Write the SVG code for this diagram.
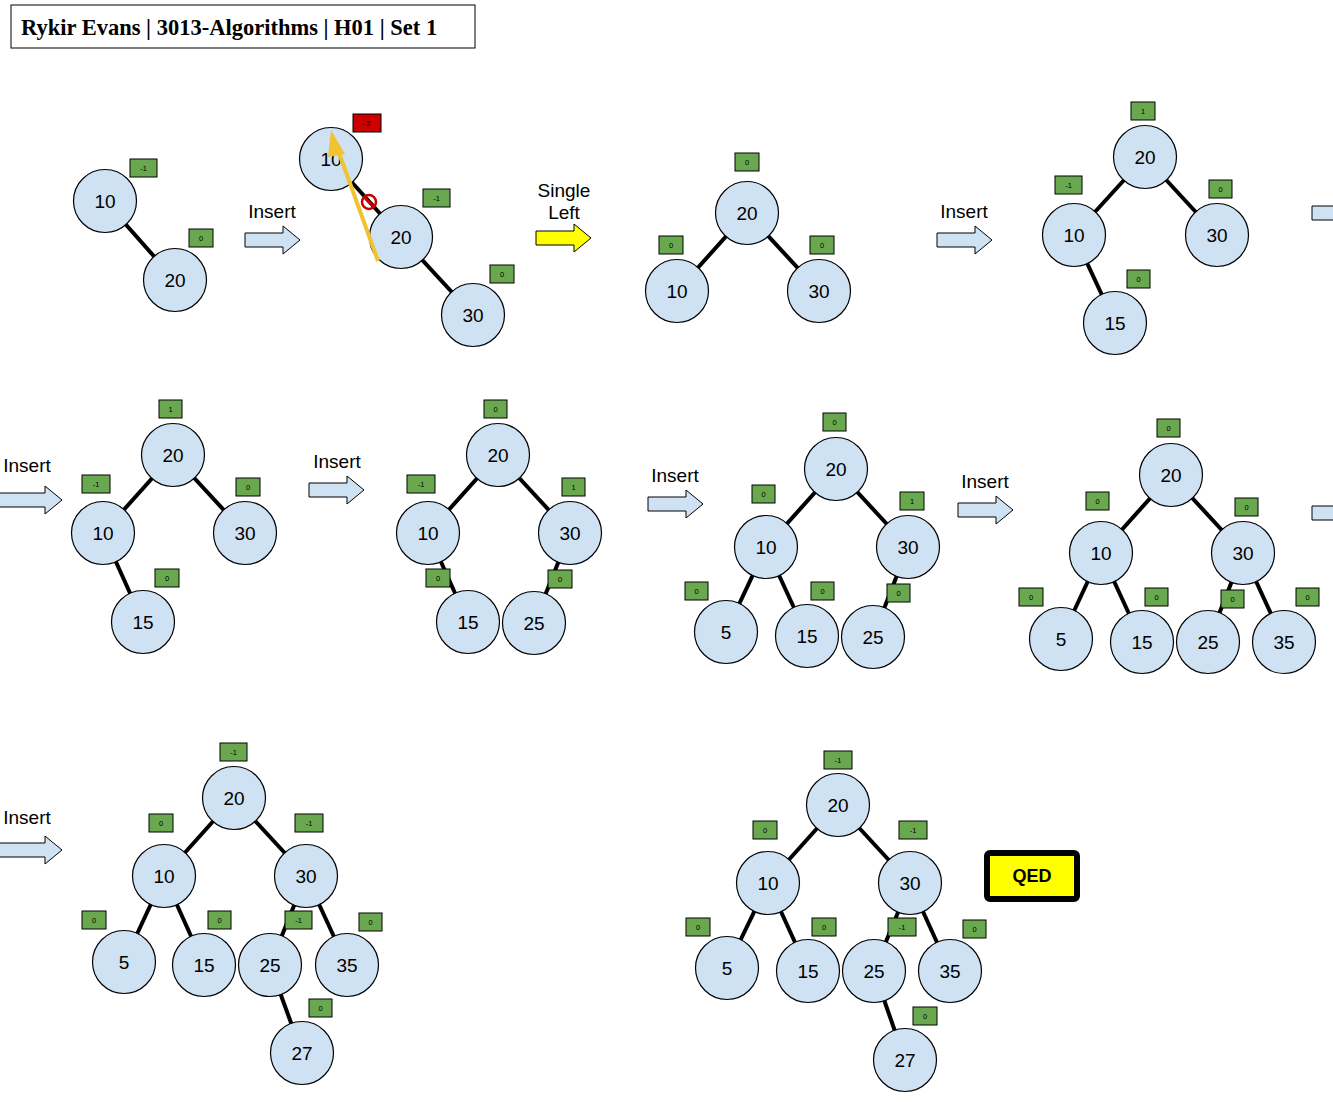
<svg xmlns="http://www.w3.org/2000/svg" width="1333" height="1108" viewBox="0 0 1333 1108">
<defs>
<style>
.n circle{fill:#cfe2f3;stroke:#000;stroke-width:1.2}
.n text{font-family:"Liberation Sans",Arial,sans-serif;font-size:19px;fill:#000;text-anchor:middle;dominant-baseline:central}
.e line{stroke:#000;stroke-width:4}
.b rect{fill:#6aa84f;stroke:#000;stroke-width:1}
.b text{font-family:"Liberation Sans",Arial,sans-serif;font-size:7.5px;fill:#000;text-anchor:middle;dominant-baseline:central}
.arr{fill:#cfe2f3;stroke:#000;stroke-width:1}
.lbl{font-family:"Liberation Sans",Arial,sans-serif;font-size:19px;fill:#000;text-anchor:middle}
</style>
</defs>
<rect width="1333" height="1108" fill="#fff"/>

<g id="title">
<rect x="11" y="5" width="464" height="43" fill="#fff" stroke="#000" stroke-width="1"/>
<text x="21" y="35" font-family="Liberation Serif,'Times New Roman',serif" font-size="22.5" font-weight="bold">Rykir Evans | 3013-Algorithms | H01 | Set 1</text>
</g>

<!-- step arrows -->
<g id="step-arrows">
<path class="arr" d="M245,233H283V226L300,240L283,254V247H245Z"/>
<text class="lbl" x="272" y="218">Insert</text>
<path d="M536,231H574V224L591,238L574,252V245H536Z" fill="#ffff00" stroke="#000" stroke-width="1"/>
<text class="lbl" x="564" y="197">Single</text>
<text class="lbl" x="564" y="219">Left</text>
<path class="arr" d="M937,233H975V226L992,240L975,254V247H937Z"/>
<text class="lbl" x="964" y="218">Insert</text>
<path class="arr" d="M1312,206H1350V199L1367,213L1350,227V220H1312Z"/>

<path class="arr" d="M-10,493H45V486L62,500L45,514V507H-10Z"/>
<text class="lbl" x="27" y="472">Insert</text>
<path class="arr" d="M309,483H347V476L364,490L347,504V497H309Z"/>
<text class="lbl" x="337" y="468">Insert</text>
<path class="arr" d="M648,497H686V490L703,504L686,518V511H648Z"/>
<text class="lbl" x="675" y="482">Insert</text>
<path class="arr" d="M958,503H996V496L1013,510L996,524V517H958Z"/>
<text class="lbl" x="985" y="488">Insert</text>
<path class="arr" d="M1312,506H1350V499L1367,513L1350,527V520H1312Z"/>

<path class="arr" d="M-10,843H45V836L62,850L45,864V857H-10Z"/>
<text class="lbl" x="27" y="824">Insert</text>
</g>

<!-- connectors -->
<g id="connectors" class="e">
<line x1="105" y1="201" x2="175" y2="280"/>
<line x1="331" y1="159" x2="401" y2="237"/>
<line x1="401" y1="237" x2="473" y2="315"/>
<line x1="747" y1="213" x2="677" y2="291"/>
<line x1="747" y1="213" x2="819" y2="291"/>
<line x1="1145" y1="157" x2="1074" y2="235"/>
<line x1="1145" y1="157" x2="1217" y2="235"/>
<line x1="1074" y1="235" x2="1115" y2="323"/>

<line x1="173" y1="455" x2="103" y2="533"/>
<line x1="173" y1="455" x2="245" y2="533"/>
<line x1="103" y1="533" x2="143" y2="622"/>

<line x1="498" y1="455" x2="428" y2="533"/>
<line x1="498" y1="455" x2="570" y2="533"/>
<line x1="428" y1="533" x2="468" y2="622"/>
<line x1="570" y1="533" x2="534" y2="623"/>

<line x1="836" y1="469" x2="766" y2="547"/>
<line x1="836" y1="469" x2="908" y2="547"/>
<line x1="766" y1="547" x2="726" y2="632"/>
<line x1="766" y1="547" x2="807" y2="636"/>
<line x1="908" y1="547" x2="873" y2="637"/>

<line x1="1171" y1="475" x2="1101" y2="553"/>
<line x1="1171" y1="475" x2="1243" y2="553"/>
<line x1="1101" y1="553" x2="1061" y2="639"/>
<line x1="1101" y1="553" x2="1142" y2="642"/>
<line x1="1243" y1="553" x2="1208" y2="642"/>
<line x1="1243" y1="553" x2="1284" y2="642"/>

<line x1="234" y1="798" x2="164" y2="876"/>
<line x1="234" y1="798" x2="306" y2="876"/>
<line x1="164" y1="876" x2="124" y2="962"/>
<line x1="164" y1="876" x2="204" y2="965"/>
<line x1="306" y1="876" x2="270" y2="965"/>
<line x1="306" y1="876" x2="347" y2="965"/>
<line x1="270" y1="965" x2="302" y2="1053"/>

<line x1="838" y1="805" x2="768" y2="883"/>
<line x1="838" y1="805" x2="910" y2="883"/>
<line x1="768" y1="883" x2="727" y2="968"/>
<line x1="768" y1="883" x2="808" y2="971"/>
<line x1="910" y1="883" x2="874" y2="971"/>
<line x1="910" y1="883" x2="950" y2="971"/>
<line x1="874" y1="971" x2="905" y2="1060"/>
</g>

<!-- Tree A -->
<g id="treeA">
<g id="A10" class="n"><circle cx="105" cy="201" r="31.5"/><text x="105" y="201">10</text></g>
<g id="A20" class="n"><circle cx="175" cy="280" r="31.5"/><text x="175" y="280">20</text></g>
<g class="b"><rect x="130" y="159" width="27" height="18"/><text x="143.5" y="168">-1</text></g>
<g class="b"><rect x="189" y="229" width="24" height="18"/><text x="201" y="238">0</text></g>
</g>

<!-- Tree B -->
<g id="treeB">
<g id="B10" class="n"><circle cx="331" cy="159" r="31.5"/><text x="331" y="159">10</text></g>
<g id="B20" class="n"><circle cx="401" cy="237" r="31.5"/><text x="401" y="237">20</text></g>
<g id="B30" class="n"><circle cx="473" cy="315" r="31.5"/><text x="473" y="315">30</text></g>
<g class="b"><rect x="353" y="114" width="28" height="18" style="fill:#cc0000"/><text x="367" y="123">-2</text></g>
<g class="b"><rect x="423" y="189" width="27" height="18"/><text x="436.5" y="198">-1</text></g>
<g class="b"><rect x="490" y="265" width="24" height="18"/><text x="502" y="274">0</text></g>
<g id="noentry">
<circle cx="369" cy="202" r="7" fill="none" stroke="#cc0000" stroke-width="2.5"/>
<line x1="364" y1="197" x2="374" y2="207" stroke="#cc0000" stroke-width="2.5"/>
</g>
<g id="rotate-arrow">
<line x1="378" y1="261" x2="338" y2="150" stroke="#f1c232" stroke-width="4"/>
<polygon points="331,130 345,154 328,157" fill="#f1c232"/>
</g>
</g>

<!-- Tree C -->
<g id="treeC">
<g id="C20" class="n"><circle cx="747" cy="213" r="31.5"/><text x="747" y="213">20</text></g>
<g id="C10" class="n"><circle cx="677" cy="291" r="31.5"/><text x="677" y="291">10</text></g>
<g id="C30" class="n"><circle cx="819" cy="291" r="31.5"/><text x="819" y="291">30</text></g>
<g class="b"><rect x="735" y="153" width="24" height="18"/><text x="747" y="162">0</text></g>
<g class="b"><rect x="659" y="236" width="24" height="18"/><text x="671" y="245">0</text></g>
<g class="b"><rect x="810" y="236" width="24" height="18"/><text x="822" y="245">0</text></g>
</g>

<!-- Tree D -->
<g id="treeD">
<g id="D20" class="n"><circle cx="1145" cy="157" r="31.5"/><text x="1145" y="157">20</text></g>
<g id="D10" class="n"><circle cx="1074" cy="235" r="31.5"/><text x="1074" y="235">10</text></g>
<g id="D30" class="n"><circle cx="1217" cy="235" r="31.5"/><text x="1217" y="235">30</text></g>
<g id="D15" class="n"><circle cx="1115" cy="323" r="31.5"/><text x="1115" y="323">15</text></g>
<g class="b"><rect x="1131" y="102" width="24" height="18"/><text x="1143" y="111">1</text></g>
<g class="b"><rect x="1055" y="176" width="27" height="18"/><text x="1068.5" y="185">-1</text></g>
<g class="b"><rect x="1209" y="180" width="23" height="18"/><text x="1220.5" y="189">0</text></g>
<g class="b"><rect x="1127" y="270" width="23" height="18"/><text x="1138.5" y="279">0</text></g>
</g>

<!-- Tree E -->
<g id="treeE">
<g id="E20" class="n"><circle cx="173" cy="455" r="31.5"/><text x="173" y="455">20</text></g>
<g id="E10" class="n"><circle cx="103" cy="533" r="31.5"/><text x="103" y="533">10</text></g>
<g id="E30" class="n"><circle cx="245" cy="533" r="31.5"/><text x="245" y="533">30</text></g>
<g id="E15" class="n"><circle cx="143" cy="622" r="31.5"/><text x="143" y="622">15</text></g>
<g class="b"><rect x="159" y="400" width="23" height="18"/><text x="170.5" y="409">1</text></g>
<g class="b"><rect x="82" y="475" width="28" height="18"/><text x="96" y="484">-1</text></g>
<g class="b"><rect x="236" y="478" width="24" height="18"/><text x="248" y="487">0</text></g>
<g class="b"><rect x="155" y="569" width="24" height="18"/><text x="167" y="578">0</text></g>
</g>

<!-- Tree F -->
<g id="treeF">
<g id="F20" class="n"><circle cx="498" cy="455" r="31.5"/><text x="498" y="455">20</text></g>
<g id="F10" class="n"><circle cx="428" cy="533" r="31.5"/><text x="428" y="533">10</text></g>
<g id="F30" class="n"><circle cx="570" cy="533" r="31.5"/><text x="570" y="533">30</text></g>
<g id="F15" class="n"><circle cx="468" cy="622" r="31.5"/><text x="468" y="622">15</text></g>
<g id="F25" class="n"><circle cx="534" cy="623" r="31.5"/><text x="534" y="623">25</text></g>
<g class="b"><rect x="484" y="400" width="23" height="18"/><text x="495.5" y="409">0</text></g>
<g class="b"><rect x="407" y="475" width="28" height="18"/><text x="421" y="484">-1</text></g>
<g class="b"><rect x="562" y="478" width="23" height="18"/><text x="573.5" y="487">1</text></g>
<g class="b"><rect x="426" y="569" width="24" height="18"/><text x="438" y="578">0</text></g>
<g class="b"><rect x="548" y="570" width="24" height="18"/><text x="560" y="579">0</text></g>
</g>

<!-- Tree G -->
<g id="treeG">
<g id="G20" class="n"><circle cx="836" cy="469" r="31.5"/><text x="836" y="469">20</text></g>
<g id="G10" class="n"><circle cx="766" cy="547" r="31.5"/><text x="766" y="547">10</text></g>
<g id="G30" class="n"><circle cx="908" cy="547" r="31.5"/><text x="908" y="547">30</text></g>
<g id="G5" class="n"><circle cx="726" cy="632" r="31.5"/><text x="726" y="632">5</text></g>
<g id="G15" class="n"><circle cx="807" cy="636" r="31.5"/><text x="807" y="636">15</text></g>
<g id="G25" class="n"><circle cx="873" cy="637" r="31.5"/><text x="873" y="637">25</text></g>
<g class="b"><rect x="823" y="413" width="23" height="18"/><text x="834.5" y="422">0</text></g>
<g class="b"><rect x="752" y="485" width="23" height="18"/><text x="763.5" y="494">0</text></g>
<g class="b"><rect x="900" y="492" width="24" height="18"/><text x="912" y="501">1</text></g>
<g class="b"><rect x="685" y="582" width="23" height="18"/><text x="696.5" y="591">0</text></g>
<g class="b"><rect x="811" y="582" width="23" height="18"/><text x="822.5" y="591">0</text></g>
<g class="b"><rect x="887" y="584" width="23" height="18"/><text x="898.5" y="593">0</text></g>
</g>

<!-- Tree H -->
<g id="treeH">
<g id="H20" class="n"><circle cx="1171" cy="475" r="31.5"/><text x="1171" y="475">20</text></g>
<g id="H10" class="n"><circle cx="1101" cy="553" r="31.5"/><text x="1101" y="553">10</text></g>
<g id="H30" class="n"><circle cx="1243" cy="553" r="31.5"/><text x="1243" y="553">30</text></g>
<g id="H5" class="n"><circle cx="1061" cy="639" r="31.5"/><text x="1061" y="639">5</text></g>
<g id="H15" class="n"><circle cx="1142" cy="642" r="31.5"/><text x="1142" y="642">15</text></g>
<g id="H25" class="n"><circle cx="1208" cy="642" r="31.5"/><text x="1208" y="642">25</text></g>
<g id="H35" class="n"><circle cx="1284" cy="642" r="31.5"/><text x="1284" y="642">35</text></g>
<g class="b"><rect x="1157" y="419" width="23" height="18"/><text x="1168.5" y="428">0</text></g>
<g class="b"><rect x="1086" y="492" width="23" height="18"/><text x="1097.5" y="501">0</text></g>
<g class="b"><rect x="1235" y="498" width="23" height="18"/><text x="1246.5" y="507">0</text></g>
<g class="b"><rect x="1019" y="588" width="24" height="18"/><text x="1031" y="597">0</text></g>
<g class="b"><rect x="1145" y="588" width="23" height="18"/><text x="1156.5" y="597">0</text></g>
<g class="b"><rect x="1221" y="590" width="23" height="18"/><text x="1232.5" y="599">0</text></g>
<g class="b"><rect x="1296" y="588" width="23" height="18"/><text x="1307.5" y="597">0</text></g>
</g>

<!-- Tree I -->
<g id="treeI">
<g id="I20" class="n"><circle cx="234" cy="798" r="31.5"/><text x="234" y="798">20</text></g>
<g id="I10" class="n"><circle cx="164" cy="876" r="31.5"/><text x="164" y="876">10</text></g>
<g id="I30" class="n"><circle cx="306" cy="876" r="31.5"/><text x="306" y="876">30</text></g>
<g id="I5" class="n"><circle cx="124" cy="962" r="31.5"/><text x="124" y="962">5</text></g>
<g id="I15" class="n"><circle cx="204" cy="965" r="31.5"/><text x="204" y="965">15</text></g>
<g id="I25" class="n"><circle cx="270" cy="965" r="31.5"/><text x="270" y="965">25</text></g>
<g id="I35" class="n"><circle cx="347" cy="965" r="31.5"/><text x="347" y="965">35</text></g>
<g id="I27" class="n"><circle cx="302" cy="1053" r="31.5"/><text x="302" y="1053">27</text></g>
<g class="b"><rect x="220" y="743" width="27" height="18"/><text x="233.5" y="752">-1</text></g>
<g class="b"><rect x="149" y="814" width="24" height="18"/><text x="161" y="823">0</text></g>
<g class="b"><rect x="295" y="814" width="28" height="18"/><text x="309" y="823">-1</text></g>
<g class="b"><rect x="82" y="911" width="24" height="18"/><text x="94" y="920">0</text></g>
<g class="b"><rect x="208" y="911" width="23" height="18"/><text x="219.5" y="920">0</text></g>
<g class="b"><rect x="285" y="911" width="27" height="18"/><text x="298.5" y="920">-1</text></g>
<g class="b"><rect x="359" y="913" width="23" height="18"/><text x="370.5" y="922">0</text></g>
<g class="b"><rect x="309" y="999" width="23" height="18"/><text x="320.5" y="1008">0</text></g>
</g>

<!-- Tree J -->
<g id="treeJ">
<g id="J20" class="n"><circle cx="838" cy="805" r="31.5"/><text x="838" y="805">20</text></g>
<g id="J10" class="n"><circle cx="768" cy="883" r="31.5"/><text x="768" y="883">10</text></g>
<g id="J30" class="n"><circle cx="910" cy="883" r="31.5"/><text x="910" y="883">30</text></g>
<g id="J5" class="n"><circle cx="727" cy="968" r="31.5"/><text x="727" y="968">5</text></g>
<g id="J15" class="n"><circle cx="808" cy="971" r="31.5"/><text x="808" y="971">15</text></g>
<g id="J25" class="n"><circle cx="874" cy="971" r="31.5"/><text x="874" y="971">25</text></g>
<g id="J35" class="n"><circle cx="950" cy="971" r="31.5"/><text x="950" y="971">35</text></g>
<g id="J27" class="n"><circle cx="905" cy="1060" r="31.5"/><text x="905" y="1060">27</text></g>
<g class="b"><rect x="824" y="751" width="28" height="18"/><text x="838" y="760">-1</text></g>
<g class="b"><rect x="753" y="821" width="24" height="18"/><text x="765" y="830">0</text></g>
<g class="b"><rect x="899" y="821" width="28" height="18"/><text x="913" y="830">-1</text></g>
<g class="b"><rect x="686" y="918" width="24" height="18"/><text x="698" y="927">0</text></g>
<g class="b"><rect x="812" y="918" width="24" height="18"/><text x="824" y="927">0</text></g>
<g class="b"><rect x="888" y="918" width="28" height="18"/><text x="902" y="927">-1</text></g>
<g class="b"><rect x="963" y="920" width="23" height="18"/><text x="974.5" y="929">0</text></g>
<g class="b"><rect x="913" y="1007" width="24" height="18"/><text x="925" y="1016">0</text></g>
</g>

<g id="qed">
<rect x="987" y="853" width="90" height="46" rx="3" fill="#ffff00" stroke="#000" stroke-width="6"/>
<text x="1032" y="882" font-family="'Liberation Sans',Arial,sans-serif" font-size="18" font-weight="bold" text-anchor="middle">QED</text>
</g>
</svg>
